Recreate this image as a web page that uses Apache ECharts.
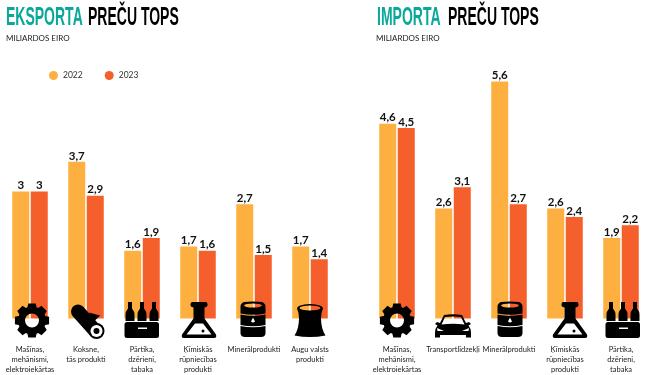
<!DOCTYPE html>
<html>
<head>
<meta charset="utf-8">
<style>
  html, body { margin: 0; padding: 0; background: #fff; }
  #chart { width: 650px; height: 375px; }
</style>
<script src="https://cdn.jsdelivr.net/npm/echarts@6/dist/echarts.min.js"></script>
</head>
<body>
<div id="chart"></div>
<script>
// data
const seriesNames = ["2022", "2023"];
const exportCategories = ["Mašīnas,\nmehānismi,\nelektroiekārtas", "Koksne,\ntās produkti", "Pārtika,\ndzērieni,\ntabaka", "Ķīmiskās\nrūpniecības\nprodukti", "Minerālprodukti", "Augu valsts\nprodukti"];
const export2022 = [3, 3.7, 1.6, 1.7, 2.7, 1.7];
const export2023 = [3, 2.9, 1.9, 1.6, 1.5, 1.4];
const importCategories = ["Mašīnas,\nmehānismi,\nelektroiekārtas", "Transportlīdzekļi", "Minerālprodukti", "Ķīmiskās\nrūpniecības\nprodukti", "Pārtika,\ndzērieni,\ntabaka"];
const import2022 = [4.6, 2.6, 5.6, 2.6, 1.9];
const import2023 = [4.5, 3.1, 2.7, 2.4, 2.2];
const exportIcons = ["gear", "pipe", "crate", "flask", "barrel", "silo"];
const importIcons = ["gear", "car", "barrel", "flask", "crate"];

// the icons do not sit exactly on the group centres in the original
const exportIconShift = [1, 0, 0, 0, -1, 0];
const importIconShift = [-1, 0, 1, 4, 2];

const YELLOW = "#FDB03F";
const RED = "#F55F2B";
const TEAL = "#0AA89A";
const FONT = "Lato, sans-serif";

// holes are drawn counter-clockwise so the bars show through
const hole = (cx, cy, rx, ry) =>
  `M${cx - rx} ${cy}A${rx} ${ry} 0 0 0 ${cx + rx} ${cy}A${rx} ${ry} 0 0 0 ${cx - rx} ${cy}Z`;

const gearPath = () => {
  const teeth = 8, R = 17.5, r = 14, step = (Math.PI * 2) / teeth;
  let d = "";
  for (let i = 0; i < teeth; i++) {
    const a = i * step;
    [[r, -0.5], [R, -0.32], [R, 0.32], [r, 0.5]].forEach(([rad, k], j) => {
      const x = rad * Math.cos(a + k * step * 0.85);
      const y = rad * Math.sin(a + k * step * 0.85);
      d += (i === 0 && j === 0 ? "M" : "L") + x.toFixed(2) + " " + y.toFixed(2);
    });
  }
  return d + "Z" + hole(0, 0, 7, 7);
};

const bottle = (x) =>
  `M${x - 2} -16.5L${x + 2} -16.5L${x + 2} -10Q${x + 4.5} -7 ${x + 4.5} -4L${x + 4.5} 2.5L${x - 4.5} 2.5L${x - 4.5} -4Q${x - 4.5} -7 ${x - 2} -10Z`;

// icon shapes, origin is the group centre on the baseline
const iconShapes = {
  gear: () => [{ d: gearPath(), x: 1, y: 2 }],
  pipe: () => [
    { d: "M-8 -7L9 12", stroke: "#000", lineWidth: 14 },
    { d: "M3 -6L14 -3L8 3Z" },
    { d: hole(10.5, 12.5, 8, 8), fill: "#000" },
    { d: hole(10.5, 12.5, 6, 6), fill: "#fff" },
    { d: hole(10.5, 12.5, 3, 3), fill: "#000" }
  ],
  crate: () => [
    { d: bottle(-12) + bottle(0) + bottle(12) },
    { d: "M-15 3.5L14.5 3.5Q17 3.5 17 6L17 17Q17 19.5 14.5 19.5L-15 19.5Q-17.5 19.5 -17.5 17L-17.5 6Q-17.5 3.5 -15 3.5Z" },
    { d: "M-4 9L5 9L5 10.5L-4 10.5Z", fill: "#fff" }
  ],
  flask: () => [
    {
      d: "M-7 -16.5L7 -16.5Q8.5 -16.5 8.5 -14L8.5 -13Q8.5 -11.5 5.5 -11L5.5 0L17 16Q18 19.5 15 19.5L-15 19.5Q-18 19.5 -17 16L-5.5 0L-5.5 -11Q-8.5 -11.5 -8.5 -13L-8.5 -14Q-8.5 -16.5 -7 -16.5Z" +
         "M-4 5L-12.5 16L12.5 16L4 5Z",
      x: 1
    },
    { d: hole(4, 12.5, 1.5, 1.5), x: 1 }
  ],
  barrel: () => [{
    d: "M-9 -16.5Q0 -17.5 9 -16.5Q12.5 -15 12.5 -12L12.5 15Q12 18.5 8 18.5L-8 18.5Q-12 18.5 -12.5 15L-12.5 -12Q-12.5 -15 -9 -16.5Z" +
       hole(0, -13, 9, 2) +
       "M-12.5 -5L-12.5 -4Q0 -1.5 12.5 -4L12.5 -5Q0 -2.5 -12.5 -5Z" +
       "M-12.5 6.5L-12.5 7.5Q0 10 12.5 7.5L12.5 6.5Q0 9 -12.5 6.5Z" +
       "M0 -1L-2 3Q0 5 2 3Z"
  }],
  silo: () => [{
    d: "M-13 -10Q-13 -14 0 -14.5Q13 -14 13 -10Q11 -6 11 0Q11 10 15.5 17Q0 20 -15.5 17Q-11 10 -11 0Q-11 -6 -13 -10Z" +
       hole(0, -10.5, 10.5, 2.5)
  }],
  car: () => [
    {
      d: "M-9 -3.5Q0 -5 9 -3.5L13 4.5L16 3.5L18 5.5L15.5 7Q18 10 18 14L18 19L13 19L13 16.5L-13 16.5L-13 19L-18 19L-18 14Q-18 10 -15.5 7L-18 5.5L-16 3.5L-13 4.5Z" +
         "M-8 -1.5L-11.5 6Q0 4.5 11.5 6L8 -1.5Q0 -2.5 -8 -1.5Z"
    },
    { d: "M-16 9.5L-9 12.5L-15.5 12.5Z", fill: "#fff" },
    { d: "M16 9.5L9 12.5L15.5 12.5Z", fill: "#fff" }
  ]
};

const iconRenderer = (icons, shifts) => (params, api) => {
  const p = api.coord([api.value(0), 0]);
  return {
    type: "group",
    x: p[0] + shifts[params.dataIndex],
    y: p[1],
    children: iconShapes[icons[params.dataIndex]]().map((s) => ({
      type: "path",
      x: s.x || 0,
      y: s.y || 0,
      shape: { pathData: s.d },
      style: s.stroke
        ? { fill: null, stroke: s.stroke, lineWidth: s.lineWidth, lineCap: "round" }
        : { fill: s.fill || "#000" }
    }))
  };
};

const valueLabel = {
  show: true,
  position: "top",
  distance: 0,
  color: "#111",
  fontFamily: FONT,
  fontWeight: "bold",
  fontSize: 11.5,
  formatter: (p) => String(p.value).replace(".", ",")
};

const barSeries = (name, data, index, color) => ({
  name,
  type: "bar",
  xAxisIndex: index,
  yAxisIndex: index,
  data,
  barWidth: 17,
  barGap: "9%",
  itemStyle: { color },
  label: valueLabel,
  animation: false
});

const iconSeries = (icons, shifts, index) => ({
  type: "custom",
  xAxisIndex: index,
  yAxisIndex: index,
  z: 5,
  silent: true,
  animation: false,
  clip: false,
  data: icons.map((_, i) => [i, 0]),
  renderItem: iconRenderer(icons, shifts)
});

const categoryAxis = (data, gridIndex) => ({
  type: "category",
  gridIndex,
  data,
  axisLine: { show: false },
  axisTick: { show: false },
  axisLabel: {
    interval: 0,
    margin: 26,
    color: "#222",
    fontFamily: FONT,
    fontSize: 7.5,
    lineHeight: 10
  }
});

const valueAxis = (gridIndex) => ({ type: "value", gridIndex, min: 0, max: 6, show: false });

// no condensed face is installed, so the title is squeezed horizontally
const titleText = (text, x, fill) => ({
  type: "text",
  x,
  y: 6,
  scaleX: 0.56,
  style: { text, fill, font: "bold 25px 'Liberation Sans', sans-serif" }
});

const subtitle = (x) => ({
  type: "text",
  x,
  y: 34,
  style: { text: "MILIARDOS EIRO", fill: "#222", font: "8px Lato, sans-serif" }
});

const chart = echarts.init(document.getElementById("chart"));
chart.setOption({
  backgroundColor: "#fff",
  animation: false,
  legend: {
    data: seriesNames,
    left: 44,
    top: 66,
    icon: "circle",
    itemWidth: 9,
    itemHeight: 9,
    itemGap: 22,
    itemTextGap: 3,
    textStyle: { color: "#333", fontFamily: FONT, fontSize: 8.5 }
  },
  grid: [
    { left: 2, width: 336, top: 64.5, bottom: 56.5 },
    { left: 369, width: 280, top: 64.5, bottom: 56.5 }
  ],
  xAxis: [categoryAxis(exportCategories, 0), categoryAxis(importCategories, 1)],
  yAxis: [valueAxis(0), valueAxis(1)],
  series: [
    barSeries(seriesNames[0], export2022, 0, YELLOW),
    barSeries(seriesNames[1], export2023, 0, RED),
    barSeries(seriesNames[0], import2022, 1, YELLOW),
    barSeries(seriesNames[1], import2023, 1, RED),
    iconSeries(exportIcons, exportIconShift, 0),
    iconSeries(importIcons, importIconShift, 1)
  ],
  graphic: [
    titleText("EKSPORTA", 6, TEAL),
    titleText("PREČU TOPS", 88, "#000"),
    titleText("IMPORTA", 377, TEAL),
    titleText("PREČU TOPS", 448, "#000"),
    subtitle(6),
    subtitle(376)
  ]
});
</script>
</body>
</html>
